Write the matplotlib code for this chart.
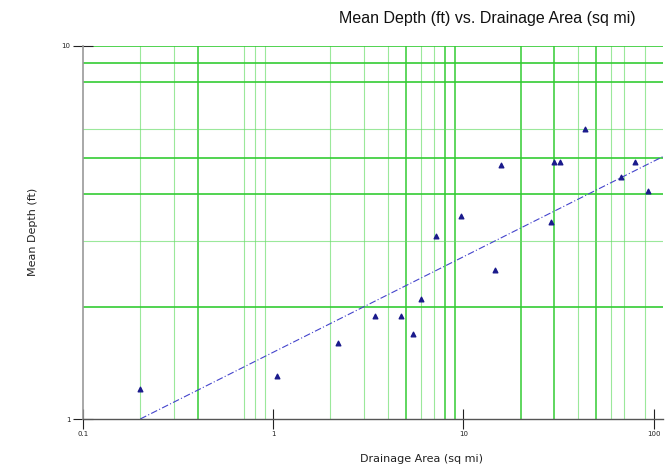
import numpy as np
import matplotlib
matplotlib.use('Agg')
import matplotlib.pyplot as plt
from matplotlib.ticker import FixedLocator, NullFormatter, NullLocator

# drainage area (sq mi) vs mean depth (ft)
area = [0.2, 1.05, 2.2, 3.44, 4.72, 5.46, 6.0, 7.2, 9.75, 14.6, 15.7,
        29.0, 30.1, 32.0, 43.4, 67.0, 79.4, 93.0]
depth = [1.20, 1.30, 1.60, 1.89, 1.89, 1.69, 2.10, 3.09, 3.50, 2.51, 4.80,
         3.37, 4.89, 4.89, 5.99, 4.45, 4.89, 4.09]

# power trend line  depth = a * area^b
trend_a = 1.51
trend_b = 0.256
trend_x = [0.2, 112.0]

x_grid_strong = [0.4, 5, 8, 9, 20, 30, 50]
x_grid_light = [0.2, 0.3, 0.7, 0.8, 0.9, 2, 3, 4, 6, 7, 40, 60, 70, 90]
y_grid_strong = [2, 4, 5, 8, 9, 10]
y_grid_light = [3, 6]

x_ticks = [0.1, 1, 10, 100]
x_ticklabels = ['0.1', '1', '10', '100']
y_ticks = [1, 10]
y_ticklabels = ['1', '10']

fig = plt.figure(figsize=(6.67, 4.68), dpi=100)
ax = fig.add_axes([83/667, 49/468, 580/667, 373/468])

ax.set_xscale('log')
ax.set_yscale('log')
ax.set_xlim(0.1, 112)
ax.set_ylim(1, 10)

for v in x_grid_light:
    ax.axvline(v, color='#66dd66', lw=0.8, alpha=0.65, zorder=1)
for v in x_grid_strong:
    ax.axvline(v, color='#33cc33', lw=1.1, zorder=1)
for v in y_grid_light:
    ax.axhline(v, color='#66dd66', lw=0.8, alpha=0.65, zorder=1)
for v in y_grid_strong:
    ax.axhline(v, color='#33cc33', lw=1.2, zorder=1)

tx = np.array(trend_x)
ax.plot(tx, trend_a * tx ** trend_b, color='#4444cc', lw=0.8,
        linestyle=(0, (6, 2, 1, 2)), zorder=2)

ax.scatter(area, depth, marker='^', s=11, color='#1a1a8c', zorder=3)

ax.xaxis.set_major_locator(FixedLocator(x_ticks))
ax.xaxis.set_minor_locator(NullLocator())
ax.set_xticklabels(x_ticklabels)
ax.yaxis.set_major_locator(FixedLocator(y_ticks))
ax.yaxis.set_minor_locator(NullLocator())
ax.set_yticklabels(y_ticklabels)
ax.xaxis.set_minor_formatter(NullFormatter())
ax.yaxis.set_minor_formatter(NullFormatter())

ax.tick_params(axis='x', direction='inout', length=14, width=0.8,
               labelsize=5, colors='#222222', pad=2)
ax.tick_params(axis='y', direction='inout', length=14, width=0.8,
               labelsize=5, colors='#222222', pad=2)

for s in ['top', 'right']:
    ax.spines[s].set_visible(False)
ax.spines['left'].set_color('#999999')
ax.spines['left'].set_linewidth(1.2)
ax.spines['bottom'].set_color('#555555')
ax.spines['bottom'].set_linewidth(1.0)

fig.text(487/667, 1 - 19/468, 'Mean Depth (ft) vs. Drainage Area (sq mi)',
         ha='center', va='center', fontsize=11.5, family='Liberation Sans',
         color='#111111')
fig.text(360/667, 1 - 459/468, 'Drainage Area (sq mi)', ha='left',
         va='center', fontsize=8, family='DejaVu Sans', color='#222222')
fig.text(33/667, 1 - 232/468, 'Mean Depth (ft)', ha='center', va='center',
         rotation=90, fontsize=8, family='DejaVu Sans', color='#222222')

fig.savefig('out.png', dpi=100)
